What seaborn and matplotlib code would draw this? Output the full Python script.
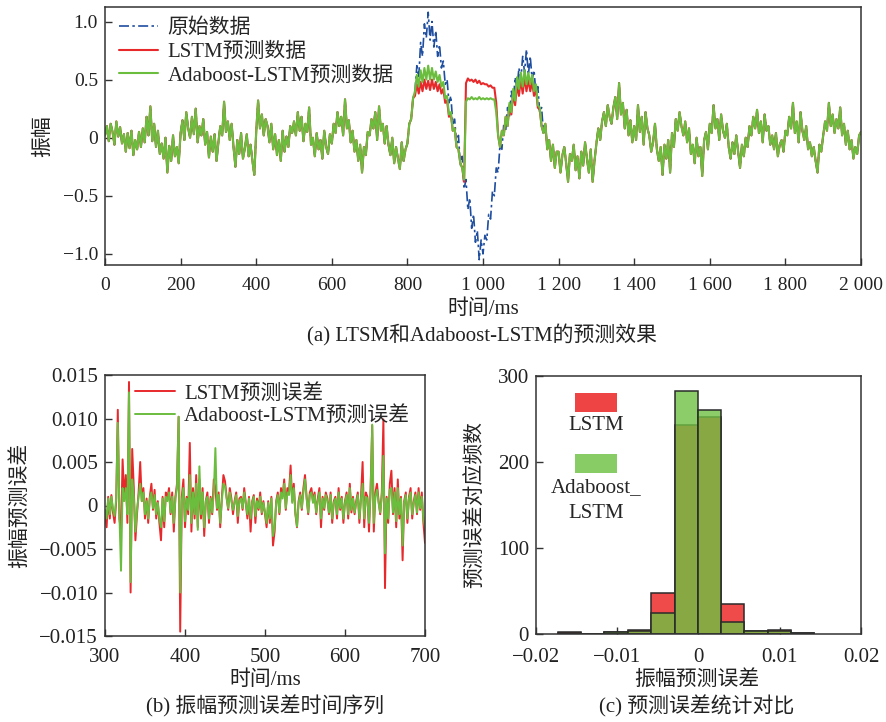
import numpy as np
import pandas as pd
import matplotlib
matplotlib.use("Agg")
import matplotlib.pyplot as plt
from matplotlib.patches import Rectangle
import seaborn as sns

# ---------------- data: panel (a) ----------------
T_STEP = 5  # ms
ORIG = [
    0.02, 0.10, -0.03, 0.12, 0.05, -0.06, 0.14, 0.01, 0.09, -0.05, 0.03, -0.12, 0.04, -0.09, 0.06, -0.15, -0.02, -0.10, 0.05, -0.08,
    0.08, -0.04, 0.18, 0.02, 0.27, -0.03, 0.12, -0.08, 0.06, -0.14, -0.05, -0.18, 0.00, -0.30, -0.07, -0.20, 0.02, -0.16, -0.08, -0.22,
    0.04, 0.15, -0.02, 0.22, 0.08, 0.00, 0.18, 0.03, 0.25, -0.04, 0.10, 0.02, 0.16, -0.06, 0.05, -0.17, 0.01, -0.12, 0.03, -0.20,
    -0.04, 0.10, 0.02, 0.31, 0.05, 0.14, -0.02, 0.12, -0.08, -0.25, -0.02, -0.14, 0.04, -0.18, -0.09, 0.03, -0.16, -0.06, -0.20, -0.32,
    0.05, 0.32, 0.08, 0.20, 0.02, 0.16, 0.10, -0.04, 0.12, -0.10, 0.03, -0.15, -0.02, -0.20, 0.06, -0.12, 0.01, -0.08, 0.10, 0.04,
    0.14, 0.02, 0.22, 0.06, 0.18, -0.03, 0.12, 0.05, 0.26, -0.06, 0.00, -0.16, 0.04, -0.10, -0.02, -0.18, 0.06, -0.08, -0.14, 0.03,
    -0.05, 0.12, 0.04, 0.22, 0.10, 0.18, 0.02, 0.33, 0.08, 0.15, -0.04, 0.06, -0.12, -0.02, -0.20, -0.06, -0.30, -0.08, -0.15, 0.05,
    0.02, 0.16, 0.08, 0.22, -0.02, 0.27, 0.06, 0.12, -0.05, 0.10, -0.06, -0.15, 0.00, -0.22, -0.08, -0.18, -0.27, -0.04, -0.20, -0.10,
    -0.05, 0.12, 0.16, 0.34, 0.40, 0.62, 0.52, 0.82, 0.70, 0.98, 0.86, 1.08, 0.84, 1.00, 0.78, 0.92, 0.70, 0.80, 0.60, 0.66,
    0.46, 0.50, 0.30, 0.36, 0.12, 0.16, -0.06, 0.02, -0.24, -0.16, -0.44, -0.36, -0.62, -0.52, -0.78, -0.66, -0.90, -0.80, -1.05, -0.88,
    -1.00, -0.84, -0.88, -0.66, -0.70, -0.46, -0.50, -0.26, -0.30, -0.06, -0.10, 0.12, 0.06, 0.26, 0.18, 0.40, 0.30, 0.52, 0.42, 0.60,
    0.50, 0.70, 0.56, 0.76, 0.54, 0.70, 0.50, 0.58, 0.38, 0.44, 0.22, 0.26, 0.04, 0.12, -0.10, -0.02, -0.20, -0.06, -0.26, -0.12,
    -0.12, -0.30, -0.15, -0.08, -0.22, -0.38, -0.14, -0.20, -0.06, -0.28, -0.16, -0.35, -0.12, -0.24, -0.04, -0.18, -0.30, -0.10, -0.38, -0.20,
    -0.05, 0.08, -0.02, 0.14, 0.22, 0.10, 0.28, 0.18, 0.12, 0.26, 0.35, 0.16, 0.47, 0.20, 0.30, 0.08, 0.24, 0.02, 0.15, -0.04,
    0.10, -0.02, 0.28, 0.05, 0.18, -0.06, 0.22, 0.08, 0.02, -0.12, -0.04, 0.12, -0.10, -0.20, -0.08, -0.32, -0.06, -0.18, -0.02, -0.30,
    0.04, -0.08, 0.16, 0.06, 0.22, 0.10, 0.02, 0.14, -0.04, 0.08, -0.14, -0.06, -0.22, 0.00, -0.16, -0.08, -0.33, -0.02, 0.05, -0.10,
    0.12, 0.04, 0.28, 0.08, 0.16, -0.02, 0.20, 0.06, 0.00, 0.12, -0.08, -0.18, -0.04, -0.14, 0.02, -0.12, -0.26, -0.06, -0.16, 0.00,
    -0.08, 0.10, 0.02, 0.18, 0.08, 0.24, 0.04, 0.14, -0.04, 0.20, 0.06, 0.10, -0.06, 0.02, -0.10, 0.04, -0.16, -0.06, -0.02, -0.12,
    0.06, 0.02, 0.18, 0.08, 0.30, 0.04, 0.14, -0.04, 0.22, 0.06, -0.02, 0.10, -0.10, -0.04, -0.16, -0.08, -0.20, -0.30, -0.06, -0.12,
    0.02, 0.14, 0.06, 0.30, 0.10, 0.20, 0.04, 0.16, 0.08, 0.26, 0.02, 0.12, -0.06, 0.06, -0.10, -0.02, -0.18, -0.08, -0.14, 0.02,
    0.05,
]
# predictions differ from the original only in the 820-1155 ms window
WIN_START, WIN_END = 820, 1155
LSTM_WIN = [
    0.36, 0.46, 0.38, 0.48, 0.40, 0.50, 0.42, 0.49, 0.41, 0.50, 0.42, 0.48, 0.40, 0.46, 0.38, 0.42, 0.30, 0.32, 0.18, 0.20,
    0.06, 0.08, -0.08, -0.10, -0.22, -0.26, -0.38, 0.47, 0.51, 0.49, 0.50, 0.48, 0.50, 0.47, 0.49, 0.46, 0.47, 0.46, 0.46, 0.44,
    0.45, 0.43, 0.43, 0.30, 0.02, -0.08, 0.06, 0.02, 0.18, 0.10, 0.28, 0.20, 0.38, 0.28, 0.46, 0.36, 0.50, 0.38, 0.52, 0.40,
    0.50, 0.40, 0.48, 0.36, 0.42, 0.26, 0.24, 0.10,
]
ADA_WIN = [
    0.40, 0.54, 0.44, 0.58, 0.48, 0.60, 0.50, 0.62, 0.50, 0.60, 0.50, 0.57, 0.48, 0.54, 0.44, 0.48, 0.34, 0.36, 0.20, 0.22,
    0.06, 0.08, -0.08, -0.10, -0.22, -0.26, -0.36, 0.31, 0.34, 0.33, 0.35, 0.33, 0.34, 0.33, 0.35, 0.33, 0.34, 0.33, 0.34, 0.33,
    0.34, 0.33, 0.33, 0.22, 0.02, -0.08, 0.06, 0.02, 0.18, 0.10, 0.30, 0.22, 0.42, 0.32, 0.52, 0.42, 0.56, 0.44, 0.58, 0.46,
    0.56, 0.46, 0.54, 0.40, 0.46, 0.28, 0.26, 0.10,
]

# ---------------- data: panel (b), errors in units of 1e-3 ----------------
ERR_STEP = 2  # ms
ERR_LSTM_E3 = [
    -1.0, -2.5, 1.0, -1.5, 1.2, -0.8, -2.0, 0.5, 11.0, -1.5, -3.0, 5.3, 1.0, 3.5, -2.0, 14.2, -10.0, 6.5, 2.0, -4.0,
    -1.0, 1.5, 5.0, 0.5, 2.0, -1.5, 0.8, -2.0, 1.0, 2.5, -0.5, 1.8, -1.5, 0.5, -2.0, -4.0, 1.0, -2.5, 1.5, 0.8,
    2.0, -1.0, 1.5, -3.0, 1.0, 2.5, 10.2, -14.5, 1.0, 3.0, -2.5, 1.0, -1.0, 7.2, -3.0, 2.0, -1.5, 3.5, -2.5, 3.0,
    -1.5, 2.0, -3.5, 0.5, 1.5, -2.0, 1.0, -1.0, 3.0, 2.0, -0.5, 1.5, -2.5, 0.8, 3.5, 2.8, 1.0, -0.5, 2.0, 0.8,
    -1.0, 0.5, 1.5, -2.0, 0.8, 1.0, -0.5, 2.0, 0.3, -1.5, 1.0, -3.0, 0.5, 1.2, -2.0, 0.8, -0.5, 1.5, -1.0, 0.5,
    -1.0, -2.5, 0.5, -2.0, 1.0, -4.6, -3.0, 0.5, 1.5, -1.0, 2.0, 1.0, 3.0, -0.5, 2.0, 1.5, 4.6, 0.5, 2.5, -1.0,
    -2.5, 0.5, 1.5, -0.5, 2.0, 3.5, 1.0, -1.0, 1.5, 2.0, 0.5, 1.5, -1.0, 0.8, 2.0, -2.5, 1.0, -0.5, 1.5, 0.8,
    -1.0, 1.5, -2.0, 0.5, 1.0, -1.5, 2.0, -0.5, 1.0, -2.0, 0.5, 1.5, -1.5, 2.5, -0.8, 1.0, -1.0, 0.5, 1.5, -2.0,
    1.0, 5.0, -2.5, 1.5, 1.0, -3.0, 2.0, 9.2, -3.0, 1.5, 2.5, 0.5, -1.0, 1.5, 9.9, -9.5, 1.0, -2.0, 2.5, 4.0,
    -1.0, 2.0, -2.5, 3.0, -1.5, 1.0, -6.3, 0.5, 1.5, -2.0, 1.0, 2.0, -1.5, 0.5, 1.5, -1.0, 2.0, -0.5, 1.5, -2.0,
    -4.3,
]
ERR_ADA_E3 = [
    -0.5, -1.5, 0.8, -1.0, 1.0, -0.5, -1.2, 0.8, 9.5, -1.0, -7.5, 2.0, 0.5, 2.0, -1.0, 13.0, -8.8, 3.0, 1.0, -3.0,
    -0.5, 1.0, 2.5, 0.5, 1.5, -1.0, 0.5, -1.5, 0.8, 1.5, -0.3, 1.2, -1.0, 0.3, -1.5, -2.5, 0.8, -1.8, 1.0, 0.5,
    1.5, -0.8, 1.0, -2.0, 0.8, 2.0, 10.2, -10.0, 0.5, 2.0, -1.8, 0.8, -0.5, 3.5, -2.0, 1.5, -1.0, 2.5, -2.8, 4.5,
    -1.0, 1.5, -2.5, 0.5, 1.0, -1.5, 0.8, -0.8, 1.5, 6.6, -0.3, 1.2, -2.0, 0.5, 2.5, 2.2, 0.8, -0.3, 1.5, 0.5,
    -0.5, 0.3, 1.2, -1.2, 0.5, 0.8, -0.3, 1.5, 0.2, -1.0, 0.8, -1.5, 0.3, 1.0, -1.2, 0.5, -0.3, 1.0, -0.8, 0.3,
    -0.8, -2.0, 0.3, -1.5, 0.8, -3.5, -2.5, 0.3, 1.2, -0.8, 1.5, 0.8, 2.5, -0.3, 1.5, 1.2, 3.5, 0.3, 2.0, -0.8,
    -2.4, 0.3, 1.2, -0.3, 1.5, 3.0, 0.8, -0.8, 1.2, 1.5, 0.3, 1.2, -0.8, 0.5, 1.5, -1.5, 0.8, -0.3, 1.2, 0.5,
    -0.8, 1.2, -1.5, 0.3, 0.8, -1.0, 1.5, -0.3, 0.8, -1.5, 0.3, 1.2, -1.0, 2.0, -0.5, 0.8, -0.8, 0.3, 1.2, -1.5,
    0.8, 2.5, -1.5, 1.0, 0.8, -2.0, 1.5, 9.3, -2.0, 1.0, 1.8, 0.3, -0.8, 1.0, 5.7, -5.5, 0.8, -1.5, 1.8, 2.0,
    -0.8, 1.5, -1.8, 2.0, -1.0, 0.8, -4.6, 0.3, 1.2, -1.5, 0.8, 1.5, -1.0, 0.3, 1.2, -0.8, 1.5, -0.3, 1.0, -1.5,
    -2.5,
]

# ---------------- data: panel (c), histogram ----------------
BIN_EDGES = [-0.0173, -0.0145, -0.0116, -0.00865, -0.0058, -0.0029, -0.0001, 0.0028, 0.0056, 0.0085, 0.0114, 0.0142]
LSTM_COUNTS = [2, 0, 2, 5, 48, 243, 252, 35, 4, 5, 1]
ADA_COUNTS = [1, 0, 2, 3, 25, 283, 261, 14, 4, 3, 1]

# ---------------- labels ----------------
LEG_A = ["原始数据", "LSTM预测数据", "Adaboost-LSTM预测数据"]
LEG_B = ["LSTM预测误差", "Adaboost-LSTM预测误差"]
XT_A = [0, 200, 400, 600, 800, 1000, 1200, 1400, 1600, 1800, 2000]
XT_A_LAB = ["0", "200", "400", "600", "800", "1 000", "1 200", "1 400", "1 600", "1 800", "2 000"]
YT_A = [-1.0, -0.5, 0, 0.5, 1.0]
YT_A_LAB = ["\u22121.0", "\u22120.5", "0", "0.5", "1.0"]
XT_B = [300, 400, 500, 600, 700]
YT_B = [-0.015, -0.010, -0.005, 0, 0.005, 0.010, 0.015]
YT_B_LAB = ["\u22120.015", "\u22120.010", "\u22120.005", "0", "0.005", "0.010", "0.015"]
XT_C = [-0.02, -0.01, 0, 0.01, 0.02]
XT_C_LAB = ["\u22120.02", "\u22120.01", "0", "0.01", "0.02"]
YT_C = [0, 100, 200, 300]

C_BLUE = "#1f4e9f"
C_RED = "#e8292b"
C_GREEN = "#6bbd3e"

# ---------------- build ----------------
t_a = np.arange(0, 2001, T_STEP)
i0 = (WIN_START) // T_STEP
i1 = (WIN_END) // T_STEP + 1
lstm_full = ORIG[:i0] + LSTM_WIN + ORIG[i1:]
ada_full = ORIG[:i0] + ADA_WIN + ORIG[i1:]
df_a = pd.DataFrame({"t": t_a, "orig": ORIG, "lstm": lstm_full, "ada": ada_full})

t_b = np.arange(300, 701, ERR_STEP)
df_b = pd.DataFrame({"t": t_b, "lstm": np.array(ERR_LSTM_E3) * 1e-3, "ada": np.array(ERR_ADA_E3) * 1e-3})

centers = [(a + b) / 2 for a, b in zip(BIN_EDGES[:-1], BIN_EDGES[1:])]
df_c = pd.DataFrame({"err": centers, "lstm": LSTM_COUNTS, "ada": ADA_COUNTS})

sns.set_style("ticks")
plt.rcParams["font.family"] = ["Liberation Serif", "Noto Sans CJK SC"]
plt.rcParams["axes.unicode_minus"] = True

FS = 15
fig = plt.figure(figsize=(8.87, 7.22), dpi=100)
W, H = 887, 722


def add_ax(l, t, r, b):
    return fig.add_axes([l / W, 1 - b / H, (r - l) / W, (b - t) / H])


ax1 = add_ax(105, 7, 861, 264.7)
ax2 = add_ax(105, 375, 425, 636)
ax3 = add_ax(536, 376, 861, 634)

for ax in (ax1, ax2, ax3):
    for s in ax.spines.values():
        s.set_color("#333333")
        s.set_linewidth(1.1)
    ax.tick_params(direction="in", length=5, width=1, top=False, right=False,
                   color="#333333", labelcolor="#222222")

# panel (a)
sns.lineplot(data=df_a, x="t", y="orig", ax=ax1, color=C_BLUE, linewidth=1.2,
             linestyle=(0, (6, 2, 1.5, 2)), label=LEG_A[0])
sns.lineplot(data=df_a, x="t", y="lstm", ax=ax1, color=C_RED, linewidth=1.5, label=LEG_A[1])
sns.lineplot(data=df_a, x="t", y="ada", ax=ax1, color=C_GREEN, linewidth=1.5, label=LEG_A[2])
ax1.set_xlim(0, 2000)
ax1.set_ylim(-1.093, 1.125)
ax1.set_xticks(XT_A)
ax1.set_xticklabels(XT_A_LAB, fontsize=14)
ax1.set_yticks(YT_A)
ax1.set_yticklabels(YT_A_LAB, fontsize=14)
ax1.tick_params(axis="x", pad=9)
ax1.tick_params(axis="y", pad=5)
ax1.set_xlabel("")
ax1.set_ylabel("")
ax1.legend(loc="upper left", bbox_to_anchor=(0.018, 0.955), frameon=False, fontsize=FS,
           handlelength=1.9, handletextpad=0.45, labelspacing=0.2, borderpad=0, borderaxespad=0)

# panel (b)
sns.lineplot(data=df_b, x="t", y="lstm", ax=ax2, color=C_RED, linewidth=1.4, label=LEG_B[0])
sns.lineplot(data=df_b, x="t", y="ada", ax=ax2, color=C_GREEN, linewidth=1.4, label=LEG_B[1])
ax2.set_xlim(300, 700)
ax2.set_ylim(-0.015, 0.015)
ax2.set_xticks(XT_B)
ax2.set_xticklabels([str(v) for v in XT_B], fontsize=FS)
ax2.set_yticks(YT_B)
ax2.set_yticklabels(YT_B_LAB, fontsize=FS)
ax2.tick_params(axis="x", pad=9)
ax2.tick_params(axis="y", pad=5)
ax2.set_xlabel("")
ax2.set_ylabel("")
ax2.legend(loc="upper left", bbox_to_anchor=(0.094, 0.966), frameon=False, fontsize=FS,
           handlelength=1.9, handletextpad=0.45, labelspacing=0.12, borderpad=0, borderaxespad=0)

# panel (c)
sns.histplot(data=df_c, x="err", weights="lstm", bins=BIN_EDGES, ax=ax3, color="#ef4b4b", alpha=1.0,
             edgecolor="#2a2a2a", linewidth=1.1)
sns.histplot(data=df_c, x="err", weights="ada", bins=BIN_EDGES, ax=ax3, color="#6fc043", alpha=0.8,
             edgecolor="#2a2a2a", linewidth=1.1)
ax3.set_xlim(-0.02, 0.02)
ax3.set_ylim(0, 300)
ax3.set_xticks(XT_C)
ax3.set_xticklabels(XT_C_LAB, fontsize=FS)
ax3.set_yticks(YT_C)
ax3.set_yticklabels([str(v) for v in YT_C], fontsize=FS)
ax3.tick_params(axis="x", pad=10)
ax3.tick_params(axis="y", pad=5)
ax3.set_xlabel("")
ax3.set_ylabel("")
ax3.add_patch(Rectangle((0.12, 0.860), 0.129, 0.074, transform=ax3.transAxes,
                        facecolor="#ee4444", edgecolor="none"))
ax3.add_patch(Rectangle((0.12, 0.624), 0.129, 0.074, transform=ax3.transAxes,
                        facecolor="#88cc66", edgecolor="none"))
ax3.text(0.185, 0.810, "LSTM", transform=ax3.transAxes, ha="center", va="center", fontsize=FS)
ax3.text(0.185, 0.567, "Adaboost_", transform=ax3.transAxes, ha="center", va="center", fontsize=FS)
ax3.text(0.185, 0.466, "LSTM", transform=ax3.transAxes, ha="center", va="center", fontsize=FS)

# axis titles and captions
def ftxt(x, y, s, rot=0):
    fig.text(x / W, 1 - y / H, s, ha="center", va="center", fontsize=FS, rotation=rot, color="#222222")


ftxt(43, 136, "振幅", 90)
ftxt(483, 309, "时间/ms")
ftxt(482, 335, "(a) LTSM和Adaboost-LSTM的预测效果")
ftxt(20, 505, "振幅预测误差", 90)
ftxt(265, 680, "时间/ms")
ftxt(265, 706, "(b) 振幅预测误差时间序列")
ftxt(475, 505, "预测误差对应频数", 90)
ftxt(697, 680, "振幅预测误差")
ftxt(697, 706, "(c) 预测误差统计对比")

fig.savefig("out.png", dpi=100)
